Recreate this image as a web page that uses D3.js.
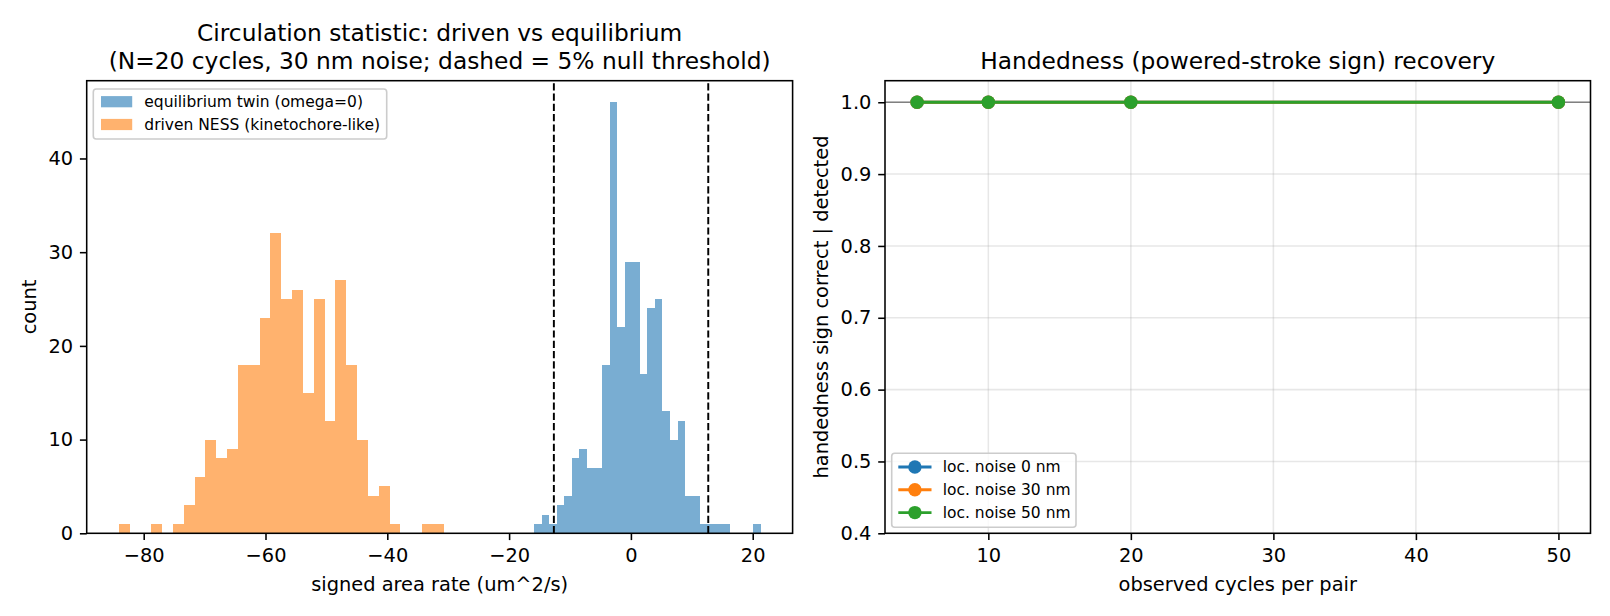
<!DOCTYPE html>
<html><head><meta charset="utf-8">
<script src="https://cdn.jsdelivr.net/npm/d3@7"></script>
<style>
body{margin:0;background:#fff}
svg{display:block;font-family:"DejaVu Sans",sans-serif}
</style>
</head><body>
<svg id="c" width="1610" height="616"></svg>
<script>
// ---------- data: left panel (histograms, 30 bins each) ----------
const eqLabel = "equilibrium twin (omega=0)";
const eqRange = [-15.89, 21.28];
const eqCounts = [1,2,1,3,4,8,9,7,7,18,46,22,29,29,17,24,25,13,10,12,4,4,1,1,1,1,0,0,0,1];
const drLabel = "driven NESS (kinetochore-like)";
const drRange = [-84.09, -30.73];
const drCounts = [1,0,0,1,0,1,3,6,10,8,9,18,18,23,32,25,26,15,25,12,27,18,10,4,5,1,0,0,1,1];
const nullThreshold = [-12.65, 12.7];
const histXLim = [-89.36, 26.55];
const histYLim = [0, 48.3];
const histXTicks = [-80, -60, -40, -20, 0, 20];
const histYTicks = [0, 10, 20, 30, 40];

// ---------- data: right panel ----------
const cycles = [5, 10, 20, 50];
const noise0 = [1.0, 1.0, 1.0, 1.0];
const noise30 = [1.0, 1.0, 1.0, 1.0];
const noise50 = [1.0, 1.0, 1.0, 1.0];
const seriesNames = ["loc. noise 0 nm", "loc. noise 30 nm", "loc. noise 50 nm"];
const recXLim = [2.75, 52.25];
const recYLim = [0.4, 1.03];
const recXTicks = [10, 20, 30, 40, 50];
const recYTicks = [0.4, 0.5, 0.6, 0.7, 0.8, 0.9, 1.0];

// ---------- style ----------
const C0 = "#1f77b4", C1 = "#ff7f0e", C2 = "#2ca02c";
const FS = 19.4, TFS = 23.3, LFS = 15.5;
const TICK = 6.8, PAD = 6.8, SPW = 1.56, MR = 6.7;

const svg = d3.select("#c");
svg.append("rect").attr("width", 1610).attr("height", 616).attr("fill", "#fff");

const fmtMinus = d => (d < 0 ? "\u2212" + Math.abs(d) : String(d));

function styleAxis(g) {
  g.attr("font-family", '"DejaVu Sans",sans-serif').attr("font-size", FS);
  g.selectAll(".domain").remove();
  g.selectAll(".tick line").attr("stroke", "#000").attr("stroke-width", SPW);
  g.selectAll(".tick text").attr("fill", "#000");
}

function frame(g, L, R, T, B) {
  g.append("rect").attr("x", L).attr("y", T).attr("width", R - L).attr("height", B - T)
    .attr("fill", "none").attr("stroke", "#000").attr("stroke-width", SPW);
}

function legendBox(g, x0, y0, x1, y1) {
  g.append("rect").attr("x", x0).attr("y", y0).attr("width", x1 - x0).attr("height", y1 - y0)
    .attr("rx", 3).attr("ry", 3).attr("fill", "#fff").attr("fill-opacity", 0.8)
    .attr("stroke", "#cccccc").attr("stroke-width", 1.6);
}

// ================= LEFT PANEL =================
{
  const L = 86.7, R = 792.6, T = 80.7, B = 533.3;
  const x = d3.scaleLinear().domain(histXLim).range([L, R]);
  const y = d3.scaleLinear().domain(histYLim).range([B, T]);
  const g = svg.append("g");

  function drawHist(counts, range, color) {
    const w = (range[1] - range[0]) / counts.length;
    const bins = counts.map((c, i) => ({ c, x0: range[0] + i * w, x1: range[0] + (i + 1) * w })).filter(d => d.c > 0);
    g.append("g").selectAll("rect").data(bins).join("rect")
      .attr("x", d => x(d.x0)).attr("width", d => x(d.x1) - x(d.x0))
      .attr("y", d => y(d.c)).attr("height", d => y(0) - y(d.c))
      .attr("fill", color).attr("fill-opacity", 0.6).attr("shape-rendering", "crispEdges");
  }
  drawHist(eqCounts, eqRange, C0);
  drawHist(drCounts, drRange, C1);

  g.append("g").selectAll("line").data(nullThreshold).join("line")
    .attr("x1", d => x(d)).attr("x2", d => x(d)).attr("y1", B).attr("y2", T)
    .attr("stroke", "#000").attr("stroke-width", 1.94).attr("stroke-dasharray", "7.2,3.1");

  const gx = g.append("g").attr("transform", `translate(0,${B})`)
    .call(d3.axisBottom(x).tickValues(histXTicks).tickFormat(fmtMinus).tickSize(TICK).tickPadding(PAD).tickSizeOuter(0));
  styleAxis(gx); gx.selectAll(".tick text").attr("dy", "0.76em");
  const gy = g.append("g").attr("transform", `translate(${L},0)`)
    .call(d3.axisLeft(y).tickValues(histYTicks).tickFormat(d3.format("d")).tickSize(TICK).tickPadding(PAD).tickSizeOuter(0));
  styleAxis(gy);
  frame(g, L, R, T, B);

  g.append("text").attr("x", (L + R) / 2).attr("y", 591).attr("text-anchor", "middle")
    .attr("font-size", FS).text("signed area rate (um^2/s)");
  g.append("text").attr("transform", `translate(36,${(T + B) / 2}) rotate(-90)`).attr("text-anchor", "middle")
    .attr("font-size", FS).text("count");
  g.append("text").attr("x", (L + R) / 2).attr("y", 41).attr("text-anchor", "middle")
    .attr("font-size", TFS).text("Circulation statistic: driven vs equilibrium");
  g.append("text").attr("x", (L + R) / 2).attr("y", 69).attr("text-anchor", "middle")
    .attr("font-size", TFS).text("(N=20 cycles, 30 nm noise; dashed = 5% null threshold)");

  // legend
  const lg = g.append("g");
  legendBox(lg, 93.3, 89, 386.7, 139);
  const items = [{ label: eqLabel, color: C0 }, { label: drLabel, color: C1 }];
  items.forEach((it, i) => {
    const cy = 101.7 + i * 22.8;
    lg.append("rect").attr("x", 101).attr("y", cy - 5.6).attr("width", 31.2).attr("height", 11.2)
      .attr("fill", it.color).attr("fill-opacity", 0.6);
    lg.append("text").attr("x", 144.3).attr("y", cy + 5.4).attr("font-size", LFS).text(it.label);
  });
}

// ================= RIGHT PANEL =================
{
  const L = 885, R = 1590.5, T = 80.7, B = 533.3;
  const x = d3.scaleLinear().domain(recXLim).range([L, R]);
  const y = d3.scaleLinear().domain(recYLim).range([B, T]);
  const g = svg.append("g");

  // grid
  g.append("g").selectAll("line").data(recXTicks).join("line")
    .attr("x1", d => x(d)).attr("x2", d => x(d)).attr("y1", T).attr("y2", B)
    .attr("stroke", "#b0b0b0").attr("stroke-opacity", 0.3).attr("stroke-width", SPW);
  g.append("g").selectAll("line").data(recYTicks).join("line")
    .attr("x1", L).attr("x2", R).attr("y1", d => y(d)).attr("y2", d => y(d))
    .attr("stroke", "#b0b0b0").attr("stroke-opacity", 0.3).attr("stroke-width", SPW);

  // reference line at 1.0
  g.append("line").attr("x1", L).attr("x2", R).attr("y1", y(1.0)).attr("y2", y(1.0))
    .attr("stroke", "gray").attr("stroke-width", 1.4);

  const series = [noise0, noise30, noise50];
  const colors = [C0, C1, C2];
  const line = d3.line().x(d => x(d[0])).y(d => y(d[1]));
  series.forEach((vals, si) => {
    const pts = cycles.map((c, i) => [c, vals[i]]);
    g.append("path").attr("d", line(pts)).attr("fill", "none")
      .attr("stroke", colors[si]).attr("stroke-width", 2.9);
    g.append("g").selectAll("circle").data(pts).join("circle")
      .attr("cx", d => x(d[0])).attr("cy", d => y(d[1])).attr("r", MR).attr("fill", colors[si]);
  });

  const gx = g.append("g").attr("transform", `translate(0,${B})`)
    .call(d3.axisBottom(x).tickValues(recXTicks).tickFormat(d3.format("d")).tickSize(TICK).tickPadding(PAD).tickSizeOuter(0));
  styleAxis(gx); gx.selectAll(".tick text").attr("dy", "0.76em");
  const gy = g.append("g").attr("transform", `translate(${L},0)`)
    .call(d3.axisLeft(y).tickValues(recYTicks).tickFormat(d3.format(".1f")).tickSize(TICK).tickPadding(PAD).tickSizeOuter(0));
  styleAxis(gy);
  frame(g, L, R, T, B);

  g.append("text").attr("x", (L + R) / 2).attr("y", 591).attr("text-anchor", "middle")
    .attr("font-size", FS).text("observed cycles per pair");
  g.append("text").attr("transform", `translate(828,${(T + B) / 2}) rotate(-90)`).attr("text-anchor", "middle")
    .attr("font-size", FS).text("handedness sign correct | detected");
  g.append("text").attr("x", (L + R) / 2).attr("y", 69).attr("text-anchor", "middle")
    .attr("font-size", TFS).text("Handedness (powered-stroke sign) recovery");

  // legend
  const lg = g.append("g");
  legendBox(lg, 891.7, 453.3, 1076, 527.3);
  seriesNames.forEach((name, i) => {
    const cy = 467 + i * 22.8;
    lg.append("line").attr("x1", 898.3).attr("x2", 931.5).attr("y1", cy).attr("y2", cy)
      .attr("stroke", colors[i]).attr("stroke-width", 2.9);
    lg.append("circle").attr("cx", 914.9).attr("cy", cy).attr("r", MR).attr("fill", colors[i]);
    lg.append("text").attr("x", 942.7).attr("y", cy + 5.4).attr("font-size", LFS).text(name);
  });
}
</script>
</body></html>
